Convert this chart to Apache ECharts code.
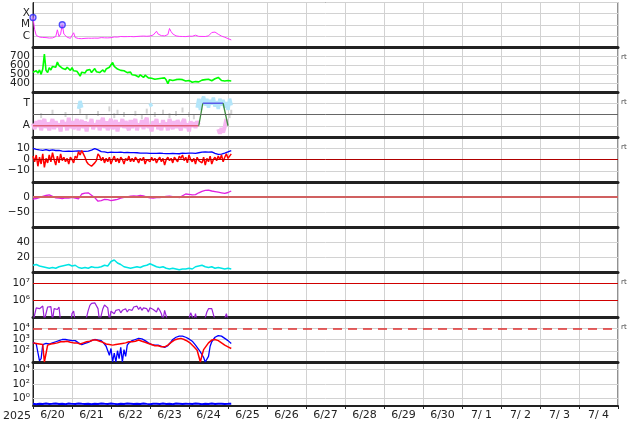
<!DOCTYPE html>
<html><head><meta charset="utf-8">
<script src="https://cdn.jsdelivr.net/npm/echarts@6/dist/echarts.min.js"></script>
<style>html,body{margin:0;padding:0;background:#fff}#c{width:634px;height:424px}</style>
</head><body><div id="c"></div>
<script>
// x in hours since 2025-06-20 00:00 UT
const dayLabels = ['6/20','6/21','6/22','6/23','6/24','6/25','6/26','6/27','6/28','6/29','6/30','7/ 1','7/ 2','7/ 3','7/ 4'];
const labelHours = [12,36,60,84,108,132,156,180,204,228,252,276,300,324,348];

// Panel 1: X-ray flux (W/m2), hourly
const xrayFlux = [4.5e-5,3.7e-6,1.1e-6,8.7e-7,7.8e-7,7.0e-7,7.2e-7,6.6e-7,7.0e-7,6.3e-7,
 6.4e-7,7.0e-7,6.6e-7,7.8e-7,8.7e-7,3.5e-6,8.7e-7,1.5e-6,1.0e-5,1.45e-6,
 9.6e-7,7.5e-7,6.3e-7,6.0e-7,6.3e-7,1.9e-6,7.0e-7,
 6.2e-7,5.8e-7,6.0e-7,5.6e-7,6.4e-7,6.0e-7,5.7e-7,6.2e-7,6.6e-7,6.1e-7,5.9e-7,6.3e-7,6.8e-7,6.2e-7,6.5e-7,7.0e-7,6.4e-7,6.7e-7,7.2e-7,6.6e-7,7.4e-7,6.9e-7,7.6e-7,8.0e-7,
 1.2e-6,7.8e-7,
 8.2e-7,8.8e-7,7.9e-7,8.5e-7,9.2e-7,8.6e-7,1.0e-6,8.8e-7,9.0e-7,8.4e-7,9.5e-7,8.9e-7,1.05e-6,9.3e-7,8.7e-7,9.6e-7,1.0e-6,9.2e-7,1.1e-6,9.7e-7,1.0e-6,1.2e-6,1.1e-6,
 2.6e-6,1.45e-6,1.1e-6,1.05e-6,1.1e-6,1.0e-6,1.15e-6,1.3e-6,4.6e-6,2.4e-6,1.5e-6,1.2e-6,
 1.0e-6,9.5e-7,9.0e-7,9.6e-7,8.8e-7,9.2e-7,8.6e-7,9.0e-7,9.4e-7,8.8e-7,9.2e-7,1.0e-6,
 1.15e-6,
 9.5e-7,9.0e-7,8.6e-7,8.9e-7,8.4e-7,8.8e-7,9.2e-7,1.0e-6,1.3e-6,
 2.0e-6,2.6e-6,2.2e-6,1.7e-6,1.4e-6,1.2e-6,9.6e-7,8.7e-7,7.5e-7,6.3e-7,5.7e-7,5.1e-7,4.3e-7];
const flareMarkHours = [0, 18];
const flareMarkFlux = [4.5e-5, 1.0e-5];

// Panel 2: solar wind speed (km/s), hourly
const windSpeed = [525,505,540,515,550,500,560,730,
 545,520,575,550,590,
 610,580,640,600,585,
 570,590,555,580,560,545,575,540,520,
 535,510,480,525,540,515,
 545,530,555,520,540,565,530,545,520,
 535,550,525,560,545,580,
 600,635,590,
 580,560,575,545,565,540,530,
 520,505,525,495,510,490,
 485,470,495,480,465,490,475,460,470,
 455,465,445,460,450,440,455,445,460,435,395,
 440,455,430,450,440,425,445,430,440,420,
 425,415,430,420,410,425,418,430,415,428,
 435,425,440,430,445,435,428,440,450,470,
 465,445,430,440,425,438,430,435,425];

// Panel 3: classification (A = 0, T = 1), hourly
const classA = [0.1,-0.15,0.2,-0.05,0.25,-0.2,0.1,0.3,-0.1,0.15,-0.2,0.05,0.3,-0.15,0.2,-0.05,0.1,-0.25,0.25,0.0,
 0.15,-0.2,0.35,-0.1,0.2,-0.15,0.05,0.3,-0.2,0.1,0.25,-0.1,0.2,-0.25,0.15,0.0,0.3,-0.15,0.1,-0.05,
 0.25,-0.2,0.15,0.35,-0.1,0.2,-0.2,0.1,0.3,-0.15,0.05,0.25,-0.25,0.15,-0.05,0.3,-0.1,0.2,0.0,-0.2,
 0.25,-0.1,0.15,0.3,-0.2,0.1,-0.05,0.25,-0.15,0.2,0.35,-0.1,0.05,-0.25,0.2,0.0,0.3,-0.15,0.1,-0.2,
 0.25,-0.05,0.15,-0.2,0.3,0.05,-0.15,0.2,-0.1,0.25,0.0,-0.2,0.15,0.3,-0.1,0.1,-0.25,0.2,-0.05,0.15,
 -0.1,0.2,0.05,
 null,null,null,null,null,null,null,null,null,null,null,
 -0.15,-0.35,-0.1,-0.3,-0.05,0.3,null,null,null];
const classTHours  = [28,29,30, 72,73, 101,102,103,104,105,106,107,108,109,110,111,112,113,114,115,116,117,118,119,120,121,122];
const classTValues = [0.75,1.1,0.8, 1.0,0.85, 0.8,1.2,0.7,1.1,1.3,0.9,1.2,0.8,1.15,0.95,1.25,0.85,1.1,0.75,1.2,0.9,1.15,0.8,1.05,0.7,1.2,0.9];
const classOtherHours  = [5,12,20,29,33,40,47,50,52,56,63,67,70,75,80,84,88,92,96,99,121,122];
const classOtherValues = [0.45,0.6,0.5,0.65,0.4,0.55,0.75,0.45,0.6,0.5,0.55,0.4,0.65,0.5,0.6,0.45,0.55,0.7,0.5,0.4,0.45,0.6];
const stateHours  = [0, 102, 104.5, 117, 120];
const stateLevels = [0, 0, 1, 1, 0];

// Panel 4: IMF Bt and Bz (nT), hourly
const imfBt = [9.8,9.5,9.0,8.8,8.5,8.6,8.2,8.5,8.8,8.3,8.0,8.4,8.6,8.2,8.0,7.8,8.1,7.6,
 7.5,7.8,7.2,7.6,7.4,7.9,7.3,7.1,7.5,7.8,7.6,7.2,7.4,7.0,7.3,7.7,7.5,7.9,
 8.4,9.0,9.6,9.2,8.5,7.8,
 7.0,6.6,6.8,6.4,6.2,6.7,6.5,6.0,6.4,6.8,6.3,6.1,6.5,6.6,6.2,5.9,6.3,6.0,6.2,5.8,6.1,5.7,6.0,5.8,5.6,
 5.4,5.7,5.3,5.6,5.2,5.5,5.8,5.4,5.1,5.5,5.3,5.6,5.0,5.4,5.7,5.3,5.5,5.2,5.6,5.4,5.8,5.3,5.5,5.1,5.4,5.6,5.2,5.5,5.3,5.7,5.4,5.6,5.2,5.5,5.8,6.0,6.2,
 6.5,6.3,6.7,6.2,6.6,6.4,6.8,6.1,5.5,
 5.0,4.6,5.2,4.8,5.1,5.6,
 6.2,6.8,7.4,7.9];
const imfBz = [3,-2,4,-6,2,-4,5,-7,1,-3,4,
 -2,6,0,-5,3,-3,5,-1,2,
 -2,1,-4,2,0,-3,3,1,
 7,4,8,5,2,
 -2,-4,-5,-6,-5,-3,-1,
 5,3,-1,2,
 -3,1,-2,2,-4,0,3,-2,1,-3,2,0,-4,1,-1,3,-2,
 1,-2,2,0,-3,1,-1,2,-4,0,1,-2,2,-1,1,-3,0,2,-2,1,-5,0,2,-1,1,-3,2,0,-2,3,1,4,-1,2,-3,4,0,-2,1,-4,2,-1,0,
 -3,2,-5,1,-2,3,-4,0,2,
 -1,3,0,4,-2,2,5,1,3,5];

// Panel 5: index (nT), every 2 h
const dstIndex = [-7,-5,-2,2,5,7,2,-3,-4,-5,-3,-4,-1,-4,-6,10,13,14,6,-2,
 -14,-12,-8,-9,-12,-10,-8,-4,-1,0,3,4,3,5,4,0,-3,-4,-2,-2,
 0,2,3,1,1,-2,4,10,9,7,8,14,19,22,23,20,18,16,14,12,15,20];

// Panel 6: index, every 2 h
const auroralIdx = [9,10,8,7,6,5,6,5,7,8,9,10,8,9,6,5,6,5,7,6,
 6,7,9,8,14,16,12,10,7,6,5,6,7,6,8,9,11,9,7,6,
 7,5,4,5,4,3,4,4,5,4,7,8,9,7,6,7,5,6,5,4,5,4];

// Panel 7: proton flux, log10, hourly
const protonLog10 = [4.7,4.8,5.55,5.65,5.5,5.6,5.66,4.8,5.2,5.6,5.55,5.62,4.8,5.5,5.57,5.45,5.6,4.7,
 4.6,4.6,4.6,4.6,4.6,4.6,5.2,5.36,4.7,
 4.6,4.6,4.6,4.6,4.6,4.6,4.6,
 5.4,5.7,5.82,5.88,5.85,5.75,5.5,4.7,4.6,5.5,5.72,5.7,5.55,4.8,
 5.35,5.42,5.2,5.4,5.3,5.45,5.25,5.4,5.35,5.5,5.3,5.45,5.55,5.4,5.6,5.5,5.65,5.45,5.6,5.4,5.55,5.62,5.5,5.3,5.55,5.6,5.45,5.5,5.3,5.55,5.4,5.2,4.8,5.4,5.3,4.7,
 4.6,4.6,4.6,4.6,4.6,4.6,4.6,4.6,4.6,4.6,4.6,4.6,
 4.7,5.25,5.3,4.8,5.2,4.7,
 4.6,4.6,4.6,4.6,4.6,
 5.3,5.5,5.54,5.5,5.4,4.8,
 4.6,4.6,4.6,4.6,4.6,4.7,5.2,4.8,4.6,4.6];

// Panel 8: electron flux, log10, hourly
const elecBlueLog10 = [2.75,2.7,2.6,2.5,1.1,1.3,2.55,2.6,2.65,2.7,2.6,2.65,2.7,2.75,2.8,2.85,2.9,2.95,3.0,2.95,
 3.0,2.9,2.95,3.0,2.9,2.85,2.9,2.8,2.7,2.6,2.55,2.6,2.65,2.7,2.75,2.8,2.9,2.95,3.0,2.9,
 2.95,2.85,2.9,2.8,2.6,2.4,2.0,1.6,2.2,1.0,1.8,1.0,2.0,1.3,2.3,1.0,2.1,1.5,2.5,2.7,
 2.85,2.9,2.95,3.0,3.05,3.1,3.1,3.05,3.0,2.9,2.85,2.7,2.6,2.55,2.5,2.5,2.45,2.5,2.45,2.4,
 2.35,2.3,2.35,2.45,2.6,2.8,3.0,3.1,3.2,3.25,3.3,3.3,3.3,3.25,3.2,3.1,3.05,3.0,2.85,2.7,
 2.5,2.3,2.1,1.9,2.0,1.4,1.0,1.0,1.5,2.4,2.8,3.0,3.2,3.3,3.35,3.35,3.3,3.2,3.1,3.0,
 2.9,2.8,2.65];
const elecRedLog10 = [2.7,2.6,2.65,2.55,2.6,2.5,2.55,1.0,1.1,2.5,2.55,2.6,2.5,2.65,2.6,2.7,2.75,2.8,2.85,2.8,
 2.9,2.85,2.8,2.75,2.8,2.7,2.75,2.7,2.65,2.6,2.65,2.7,2.75,2.8,2.75,2.85,2.9,2.95,3.0,2.95,
 2.9,2.85,2.8,2.75,2.7,2.6,2.5,2.55,2.45,2.5,2.4,2.55,2.45,2.6,2.5,2.65,2.6,2.7,2.75,2.8,
 2.85,2.8,2.9,2.85,2.9,2.95,2.9,2.85,2.8,2.75,2.7,2.65,2.6,2.55,2.5,2.45,2.4,2.45,2.4,2.35,
 2.3,2.35,2.4,2.5,2.6,2.75,2.85,2.95,3.0,3.05,3.1,3.1,3.05,3.0,2.95,2.85,2.75,2.65,2.5,2.35,
 2.2,2.05,1.9,1.0,1.6,2.1,2.3,2.5,2.7,2.85,2.95,3.0,3.0,2.95,2.9,2.8,2.7,2.6,2.5,2.4,
 2.35,2.25,2.2];

// Panel 9: log10, every 2 h
const panel9Log10 = [-0.7,-0.75,-0.68,-0.72,-0.66,-0.74,-0.7,-0.65,-0.73,-0.69,
 -0.76,-0.67,-0.71,-0.74,-0.66,-0.7,-0.73,-0.68,-0.75,-0.69,
 -0.72,-0.65,-0.7,-0.74,-0.67,-0.71,-0.76,-0.68,-0.72,-0.66,
 -0.7,-0.74,-0.69,-0.73,-0.65,-0.71,-0.75,-0.68,-0.7,-0.73,
 -0.67,-0.72,-0.69,-0.75,-0.66,-0.7,-0.74,-0.68,-0.71,-0.73,
 -0.67,-0.7,-0.75,-0.69,-0.72,-0.66,-0.73,-0.7,-0.68,-0.74,-0.71,-0.69];

// ---------------- layout ----------------
const FONT = 'DejaVu Sans';
const tops = [2.5,47,92,137,182,227,272,317,362];
const heights = [44.5,45,45,45,45,45,45,45,44];
const sup = {'0':'\u2070','1':'\u00b9','2':'\u00b2','3':'\u00b3','4':'\u2074','5':'\u2075','6':'\u2076','7':'\u2077','8':'\u2078','9':'\u2079'};
const pow10 = v => '10' + String(Math.round(v)).split('').map(c=>sup[c]||c).join('');
const signed = v => v < 0 ? '\u2212' + (-v) : String(v);
const yCfg = [
  {min:-7, max:-3, interval:1, labels:[-6,-5,-4], fmt: v => ({'-6':'C','-5':'M','-4':'X'})[String(v)] || ''},
  {min:300, max:810, interval:100, labels:[400,600], labels2:[500,700], fmt: v => String(v)},
  {min:-0.5, max:1.5, interval:0.5, labels:[0,1], fmt: v => v === 0 ? 'A' : 'T'},
  {min:-20, max:20, interval:10, labels:[-10,0,10], fmt: signed},
  {min:-100, max:50, interval:50, labels:[-50,0], fmt: signed},
  {min:0, max:60, interval:20, labels:[20,40], fmt: v => String(v)},
  {min:5, max:Math.log10(5e7), interval:1, labels:[6,7], fmt: pow10},
  {min:1, max:5, interval:1, labels:[2,3,4], fmt: pow10},
  {min:-1, max:5, interval:null, labels:[0,2,4], fmt: pow10, gridLines:[0,2,4]}
];
const GRIDC = '#d2d2d2';

const grid = tops.map((t,i)=>({left:33, right:16, top:t, height:heights[i], show:true, borderColor:'#222', borderWidth:1, backgroundColor:'rgba(0,0,0,0)'}));
const xAxis = tops.map((t,i)=>({
  type:'value', gridIndex:i, min:0, max:360, interval:24,
  axisLine:{show:true, onZero:false, lineStyle:{color:'#222', width: i<8 ? 3 : 2}},
  axisTick:{show: i===8, length:3, lineStyle:{color:'#222'}},
  axisLabel:{show: i===8, customValues: labelHours, formatter: v => dayLabels[Math.round((v-12)/24)],
    margin:4, fontSize:11, color:'#222', fontFamily:FONT, showMinLabel:true, showMaxLabel:true},
  splitLine:{show:true, lineStyle:{color:GRIDC, width:1}},
  name: i===8 ? '2025' : '', nameLocation:'start', nameGap:2,
  nameTextStyle:{fontSize:11, color:'#222', fontFamily:FONT, align:'right', verticalAlign:'top', padding:[5,0,0,0]}
}));
const labelStyle = {margin:3, fontSize:10.5, lineHeight:10, color:'#222', fontFamily:FONT, hideOverlap:false, showMinLabel:true, showMaxLabel:true};
const yAxis = yCfg.map((c,i)=>{
  const ax = {
    type:'value', gridIndex:i, min:c.min, max:c.max,
    axisLine:{show:true, onZero:false, lineStyle:{color:'#222', width:1}},
    axisTick:{show:false},
    axisLabel:Object.assign({customValues:c.labels, formatter:c.fmt}, labelStyle),
    splitLine:{show: !c.gridLines, lineStyle:{color:GRIDC, width:1}}
  };
  if (c.interval != null) ax.interval = c.interval;
  return ax;
});
// second label axis for panels whose tick labels sit too close together
yCfg.forEach((c,i)=>{
  if (!c.labels2) return;
  yAxis.push({type:'value', gridIndex:i, min:c.min, max:c.max, interval:c.interval, position:'left',
    axisLine:{show:false}, axisTick:{show:false}, splitLine:{show:false},
    axisLabel:Object.assign({customValues:c.labels2, formatter:c.fmt}, labelStyle)});
});

const hourly = (arr, step, f) => arr.map((v,i)=>[i*step, v==null ? null : (f ? f(v) : v)]);
const paired = (hs, vs) => { const out=[]; hs.forEach((h,i)=>{ if(i>0 && h-hs[i-1]>1) out.push([(h+hs[i-1])/2, null]); out.push([h, vs[i]]); }); return out; };
const line = (gi, data, color, width, extra) => Object.assign({
  type:'line', xAxisIndex:gi, yAxisIndex:gi, data, showSymbol:false, symbol:'none',
  lineStyle:{color, width}, itemStyle:{color}, silent:true, connectNulls:false
}, extra||{});
const hline = (vals, color, width, type) => ({silent:true, symbol:'none', label:{show:false},
  lineStyle:{color, width, type: type||'solid'}, data: vals.map(v=>({yAxis:v}))});

const series = [];
series.push(line(0, hourly(xrayFlux,1,Math.log10), '#ff33ff', 1));
series.push({type:'scatter', xAxisIndex:0, yAxisIndex:0, silent:true, symbol:'circle', symbolSize:6,
  data: flareMarkHours.map((h,i)=>[h, Math.log10(flareMarkFlux[i])]),
  itemStyle:{color:'rgba(170,120,255,0.7)', borderColor:'#2a2aff', borderWidth:1.3}, z:5});
series.push(line(1, hourly(windSpeed,1), '#00ff00', 1.6));
series.push(line(2, hourly(classA,1), '#f6b6f0', 4, {markLine: hline([0.5], '#666', 1)}));
series.push(line(2, paired(classTHours, classTValues), '#b4e6fa', 3.5));
series.push({type:'scatter', xAxisIndex:2, yAxisIndex:2, silent:true, symbol:'rect', symbolSize:[2,5],
  data: classOtherHours.map((h,i)=>[h, classOtherValues[i]]), itemStyle:{color:'#c8c8c8'}});
const stateColors = ['#e0607a','#3c8a3c','#5a5ae8','#3c8a3c'];
for (let k=0;k<stateHours.length-1;k++) {
  series.push(line(2, [[stateHours[k],stateLevels[k]],[stateHours[k+1],stateLevels[k+1]]], stateColors[k], 1.3, {z:4}));
}
series.push(line(3, hourly(imfBt,1), '#0000ff', 1.3, {markLine: hline([0], '#b00000', 1)}));
series.push(line(3, hourly(imfBz,1), '#ff0000', 1.5));
series.push(line(4, hourly(dstIndex,2), '#e020e0', 1.3, {markLine: hline([0], '#d06060', 2)}));
series.push(line(5, hourly(auroralIdx,2), '#00e5e5', 1.5));
series.push(line(6, hourly(protonLog10,1), '#9a22d8', 1.2, {markLine: hline([6,7], '#d00000', 1.2)}));
series.push(line(7, hourly(elecBlueLog10,1), '#0000ff', 1.3, {markLine: hline([4], '#e03030', 1.5, [9,6])}));
series.push(line(7, hourly(elecRedLog10,1), '#ff0000', 1.5));
series.push(line(8, hourly(panel9Log10,2), '#0000ff', 2, {markLine: hline(yCfg[8].gridLines, GRIDC, 1), z:3}));

const rtRows = [1,2,3,6,7];
const graphic = rtRows.map(r=>({type:'text', x:621, y:tops[r]+10, silent:true,
  style:{text:'rt', fontSize:7, fill:'#444', fontFamily:FONT, verticalAlign:'middle'}}));

const chart = echarts.init(document.getElementById('c'), null, {renderer:'canvas'});
chart.setOption({animation:false, backgroundColor:'#fff', grid, xAxis, yAxis, series, graphic});
</script></body></html>
